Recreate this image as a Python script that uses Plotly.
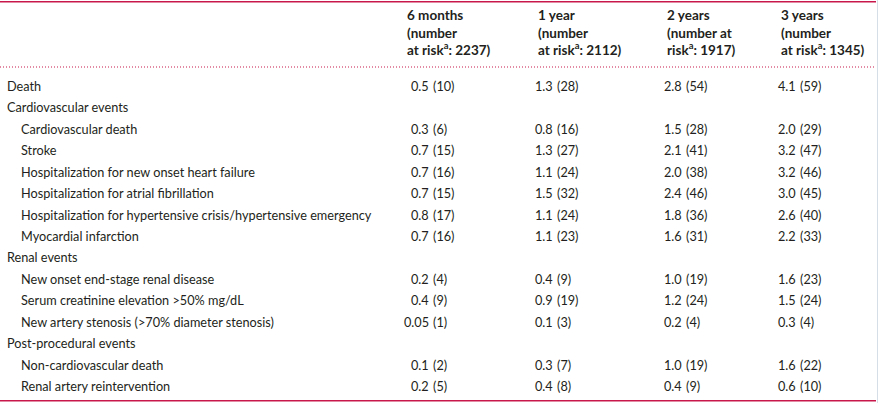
import plotly.graph_objects as go

# table content
row_labels = [
    "Death",
    "Cardiovascular events",
    "Cardiovascular death",
    "Stroke",
    "Hospitalization for new onset heart failure",
    "Hospitalization for atrial fibrillation",
    "Hospitalization for hypertensive crisis/hypertensive emergency",
    "Myocardial infarction",
    "Renal events",
    "New onset end-stage renal disease",
    "Serum creatinine elevation >50% mg/dL",
    "New artery stenosis (>70% diameter stenosis)",
    "Post-procedural events",
    "Non-cardiovascular death",
    "Renal artery reintervention",
]
row_indent = [0, 0, 1, 1, 1, 1, 1, 1, 0, 1, 1, 1, 0, 1, 1]

col_headers = [
    "6 months<br>(number<br>at risk<sup>a</sup>: 2237)",
    "1 year<br>(number<br>at risk<sup>a</sup>: 2112)",
    "2 years<br>(number at<br>risk<sup>a</sup>: 1917)",
    "3 years<br>(number<br>at risk<sup>a</sup>: 1345)",
]

pct_6m = ["0.5", None, "0.3", "0.7", "0.7", "0.7", "0.8", "0.7", None, "0.2", "0.4", "0.05", None, "0.1", "0.2"]
n_6m = ["10", None, "6", "15", "16", "15", "17", "16", None, "4", "9", "1", None, "2", "5"]
pct_1y = ["1.3", None, "0.8", "1.3", "1.1", "1.5", "1.1", "1.1", None, "0.4", "0.9", "0.1", None, "0.3", "0.4"]
n_1y = ["28", None, "16", "27", "24", "32", "24", "23", None, "9", "19", "3", None, "7", "8"]
pct_2y = ["2.8", None, "1.5", "2.1", "2.0", "2.4", "1.8", "1.6", None, "1.0", "1.2", "0.2", None, "1.0", "0.4"]
n_2y = ["54", None, "28", "41", "38", "46", "36", "31", None, "19", "24", "4", None, "19", "9"]
pct_3y = ["4.1", None, "2.0", "3.2", "3.2", "3.0", "2.6", "2.2", None, "1.6", "1.5", "0.3", None, "1.6", "0.6"]
n_3y = ["59", None, "29", "47", "46", "45", "40", "33", None, "23", "24", "4", None, "22", "10"]

W, H = 879, 403
RED = "#c8174a"
TXT = "#231f20"
FONT = "Lato"
FS = 12.7

col_header_x = [406, 537, 666, 780]
col_paren_x = [433, 557, 686, 800]
row_y0, row_step = 86, 21.43

fig = go.Figure()
fig.add_trace(go.Scatter(x=[0, W], y=[0, H], mode="markers",
                         marker=dict(opacity=0), hoverinfo="skip", showlegend=False))

ann = []
for j, head in enumerate(col_headers):
    ann.append(dict(x=col_header_x[j] - 1, y=4.5, text="<b>" + head + "</b>", xanchor="left",
                    yanchor="top", align="left", showarrow=False,
                    font=dict(family=FONT, size=13.5, color=TXT)))

cols = [(pct_6m, n_6m), (pct_1y, n_1y), (pct_2y, n_2y), (pct_3y, n_3y)]
for i, lab in enumerate(row_labels):
    y = row_y0 + i * row_step
    ann.append(dict(x=5 + 14 * row_indent[i], y=y, text=lab, xanchor="left", yanchor="middle",
                    showarrow=False, font=dict(family=FONT, size=FS, color=TXT)))
    for j, (pct, n) in enumerate(cols):
        if pct[i] is None:
            continue
        ann.append(dict(x=col_paren_x[j] - 2, y=y, text=pct[i], xanchor="right", yanchor="middle",
                        showarrow=False, font=dict(family=FONT, size=FS, color=TXT)))
        ann.append(dict(x=col_paren_x[j] - 2, y=y, text="(" + n[i] + ")", xanchor="left",
                        yanchor="middle", showarrow=False,
                        font=dict(family=FONT, size=FS, color=TXT)))

shapes = [
    dict(type="line", x0=0, x1=876, y0=1.8, y1=1.8, line=dict(color=RED, width=1.6)),
    dict(type="line", x0=0, x1=876, y0=67, y1=67, line=dict(color=RED, width=1.2, dash="1px,2px")),
    dict(type="line", x0=0, x1=876, y0=400.8, y1=400.8, line=dict(color=RED, width=1.6)),
    dict(type="line", x0=877.5, x1=877.5, y0=0, y1=H, line=dict(color="#d5dde6", width=1)),
]

fig.update_layout(
    width=W, height=H,
    margin=dict(l=0, r=0, t=0, b=0),
    paper_bgcolor="white", plot_bgcolor="white",
    xaxis=dict(range=[0, W], visible=False, fixedrange=True),
    yaxis=dict(range=[H, 0], visible=False, fixedrange=True),
    annotations=ann, shapes=shapes,
)

# browser default body margin would shift the figure by 8px
fig.write_html("out.html", config={"displayModeBar": False},
               post_script="document.body.style.margin='0';document.body.style.overflow='hidden';")
